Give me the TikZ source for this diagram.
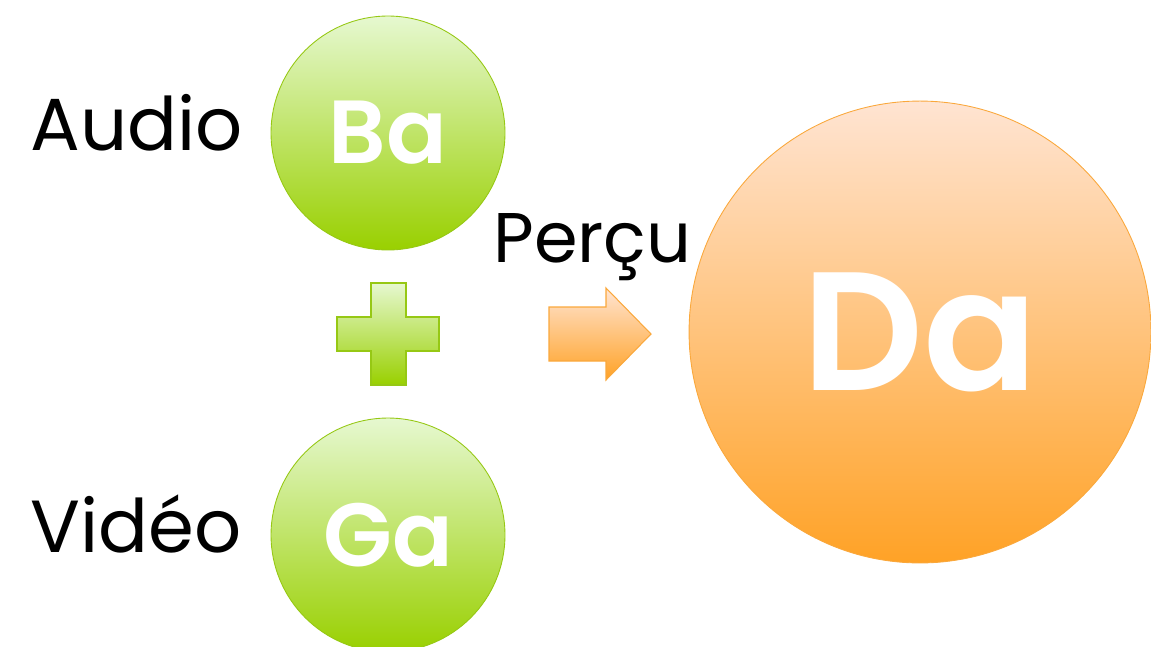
\documentclass[tikz,border=0pt]{standalone}
\usepackage{fontspec}
\setmainfont{Poppins}[BoldFont={* SemiBold}]
\usepackage{tikz}
\usepackage{xcolor}
\definecolor{hellgruen}{RGB}{230,248,208}
\definecolor{gruen}{RGB}{198,242,128}
\definecolor{dunkelgruen}{RGB}{153,208,0}
\definecolor{randgruen}{RGB}{150,200,20}
\definecolor{hellorange}{RGB}{255,228,210}
\definecolor{orange}{RGB}{254,186,110}
\definecolor{dunkelorange}{RGB}{255,162,38}
\definecolor{randorange}{RGB}{250,168,60}

\begin{document}
\begin{tikzpicture}[x=0.02cm, y=-0.02cm]
    % Rahmen
    \useasboundingbox (0,0) rectangle (1151,646);

    % Stile
    \tikzset{
        kreisgruen/.style={circle, minimum size=4.68cm, inner sep=0pt, draw=randgruen, line width=0.5pt,
            top color=hellgruen, middle color=gruen, bottom color=dunkelgruen,
            text=white, font=\fontsize{51}{60}\selectfont\bfseries},
        kreisorange/.style={circle, minimum size=9.24cm, inner sep=0pt, draw=randorange, line width=0.5pt,
            top color=hellorange, middle color=orange, bottom color=dunkelorange,
            text=white, font=\fontsize{96}{110}\selectfont\bfseries},
        beschriftung/.style={anchor=base west, inner sep=0pt, font=\fontsize{42}{50}\selectfont}
    }

    % Kreise
    \node[kreisgruen] (ba) at (388,133) {Ba};
    \node[kreisgruen] (ga) at (388,535) {Ga};
    \node[kreisorange] (da) at (920,332) {Da};

    % Beschriftungen
    \node[beschriftung] (audio) at (30,150) {Audio};
    \node[beschriftung] (video) at (30,552) {Vidéo};
    \node[beschriftung, font=\fontsize{40}{46}\selectfont] (percu) at (493,262) {Perçu};

    % Plus
    \draw[randgruen, line width=1.3pt, top color=hellgruen, middle color=gruen, bottom color=dunkelgruen]
        (371,283) -- (406,283) -- (406,317) -- (439,317) -- (439,351) -- (406,351) -- (406,385)
        -- (371,385) -- (371,351) -- (337,351) -- (337,317) -- (371,317) -- cycle;

    % Pfeil
    \draw[randorange, line width=0.6pt, top color=hellorange, bottom color=dunkelorange]
        (549,307) -- (606,307) -- (606,288) -- (651,334) -- (606,380) -- (606,361) -- (549,361) -- cycle;
\end{tikzpicture}
\end{document}
